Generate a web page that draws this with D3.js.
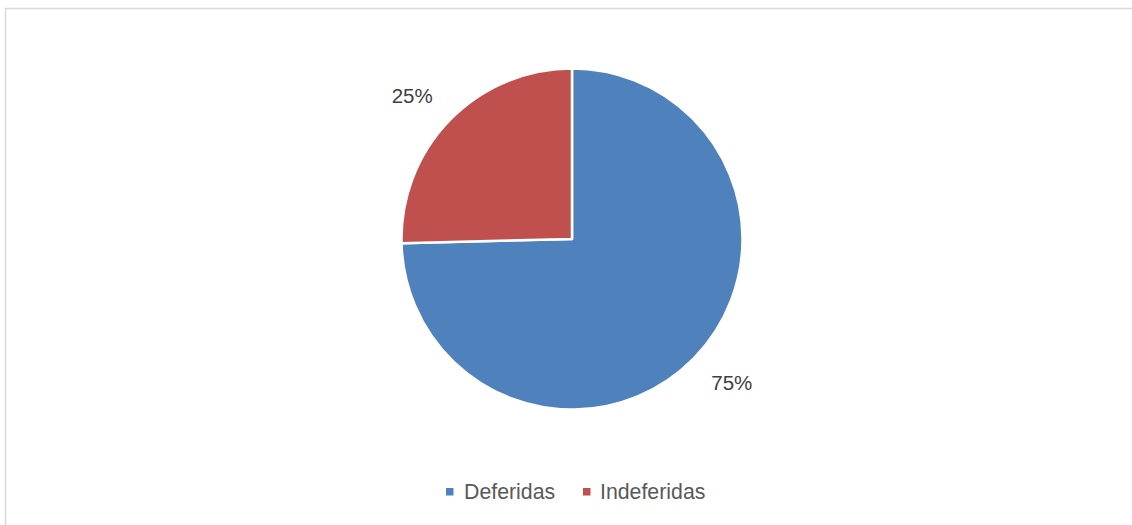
<!DOCTYPE html>
<html>
<head>
<meta charset="utf-8">
<script src="https://cdn.jsdelivr.net/npm/d3@7"></script>
<style>
  html, body { margin: 0; padding: 0; background: #fff; }
  svg { display: block; }
</style>
</head>
<body>
<svg id="chart" width="1132" height="525"></svg>
<script>
// Share of requests by outcome (percent)
const categories = ["Deferidas", "Indeferidas"];
const values = [74.6, 25.4];
const colors = ["#4F81BD", "#C0504D"];

const svg = d3.select("#chart");
const W = 1132, H = 525;
const cx = 572, cy = 239, radius = 170.5;
const fontFamily = "'Liberation Sans', Arial, sans-serif";

// chart frame (extends past the right and bottom edges)
svg.append("rect")
  .attr("x", 5.5).attr("y", 8.5)
  .attr("width", W + 20).attr("height", H + 20)
  .attr("fill", "#fff")
  .attr("stroke", "#d9d9d9")
  .attr("stroke-width", 1.5);

const data = categories.map((c, i) => ({ name: c, value: values[i], color: colors[i] }));
const total = d3.sum(values);

const pie = d3.pie().value(d => d.value).sort(null);
const arcs = pie(data);

const arc = d3.arc().innerRadius(0).outerRadius(radius);

// data labels sit just outside the rim, nudged slightly counter-clockwise
const labelRadius = 215;
const labelShift = -2.3 * Math.PI / 180;
function labelPos(d) {
  const a = (d.startAngle + d.endAngle) / 2 + labelShift;
  return [labelRadius * Math.sin(a), -labelRadius * Math.cos(a)];
}

const g = svg.append("g").attr("transform", `translate(${cx},${cy})`);

g.selectAll("path.slice")
  .data(arcs)
  .join("path")
  .attr("class", "slice")
  .attr("d", arc)
  .attr("fill", d => d.data.color)
  .attr("stroke", "#fff")
  .attr("stroke-width", 2.5)
  .attr("stroke-linejoin", "round");

g.selectAll("text.pct")
  .data(arcs)
  .join("text")
  .attr("class", "pct")
  .attr("transform", d => {
    const [x, y] = labelPos(d);
    return `translate(${x},${y})`;
  })
  .attr("text-anchor", "middle")
  .attr("dy", "0.36em")
  .attr("font-family", fontFamily)
  .attr("font-size", 20.5)
  .attr("fill", "#404040")
  .text(d => Math.round(d.data.value / total * 100) + "%");

// legend
const legendItems = [
  { x: 446, tx: 464 },
  { x: 583, tx: 600 }
];
const legend = svg.append("g");
data.forEach((d, i) => {
  legend.append("rect")
    .attr("x", legendItems[i].x).attr("y", 488)
    .attr("width", 7.5).attr("height", 7.5)
    .attr("fill", d.color);
  legend.append("text")
    .attr("x", legendItems[i].tx).attr("y", 499)
    .attr("font-family", fontFamily)
    .attr("font-size", 21.3)
    .attr("fill", "#595959")
    .text(d.name);
});
</script>
</body>
</html>
